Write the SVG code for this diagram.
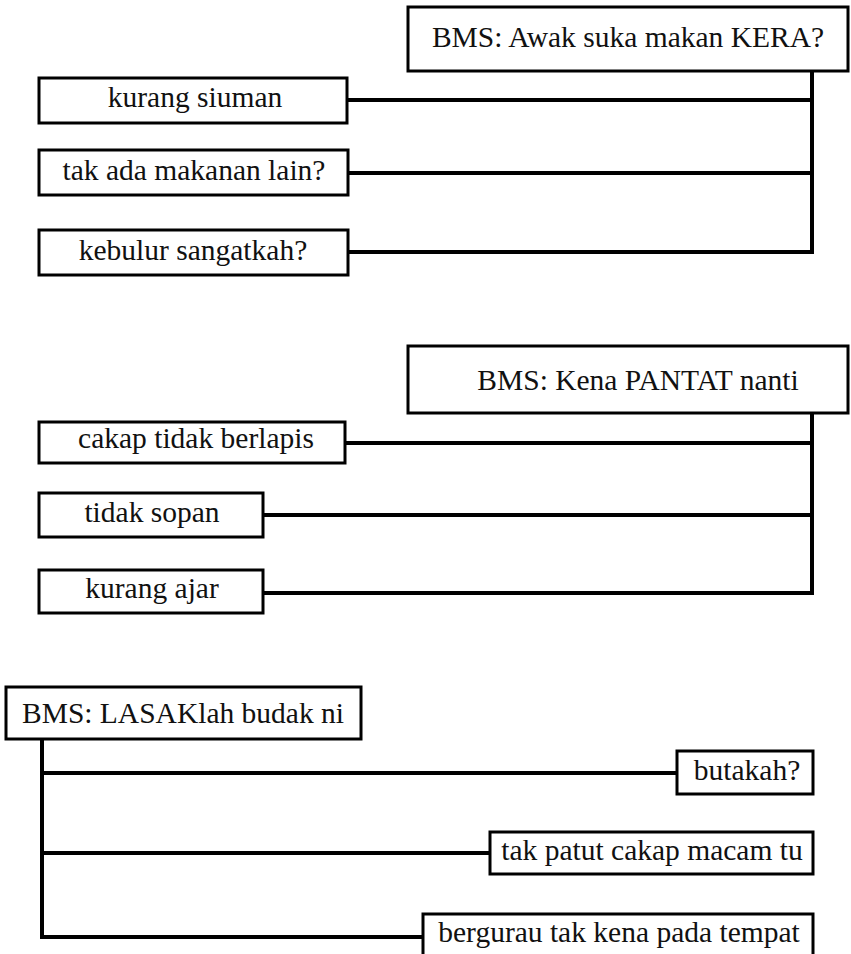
<svg xmlns="http://www.w3.org/2000/svg" width="851" height="954" viewBox="0 0 851 954">
<style>
.box{fill:#fff;stroke:#000;stroke-width:3}
.t{font-family:'Liberation Serif','Times New Roman',serif;font-size:29.5px;fill:#111;text-anchor:middle}
.c{fill:none;stroke:#000;stroke-width:4;stroke-linecap:square;stroke-linejoin:miter}
</style>
<rect width="851" height="954" fill="#fff"/>
<g id="connectors">
<path class="c" d="M812,71 V252 H348 M348,100 H812 M348,173 H812"/>
<path class="c" d="M812,413 V593 H263 M346,443 H812 M263,515 H812"/>
<path class="c" d="M42,739 V937 H423 M42,773 H677 M42,853 H490"/>
</g>
<g id="n1"><rect class="box" x="408" y="7" width="440" height="64"/><text class="t" x="628" y="47">BMS: Awak suka makan KERA?</text></g>
<g id="n1a"><rect class="box" x="39" y="78" width="308" height="45"/><text class="t" x="195" y="107">kurang siuman</text></g>
<g id="n1b"><rect class="box" x="39" y="150" width="309" height="45"/><text class="t" x="194" y="180">tak ada makanan lain?</text></g>
<g id="n1c"><rect class="box" x="39" y="230" width="309" height="45"/><text class="t" x="193" y="260">kebulur sangatkah?</text></g>
<g id="n2"><rect class="box" x="408" y="346" width="440" height="67"/><text class="t" x="638" y="390">BMS: Kena PANTAT nanti</text></g>
<g id="n2a"><rect class="box" x="39" y="422" width="306" height="41"/><text class="t" x="196" y="448">cakap tidak berlapis</text></g>
<g id="n2b"><rect class="box" x="39" y="493" width="224" height="44"/><text class="t" x="152" y="522">tidak sopan</text></g>
<g id="n2c"><rect class="box" x="39" y="570" width="224" height="43"/><text class="t" x="152" y="598">kurang ajar</text></g>
<g id="n3"><rect class="box" x="6" y="687" width="355" height="52"/><text class="t" x="183" y="723">BMS: LASAKlah budak ni</text></g>
<g id="n3a"><rect class="box" x="677" y="751" width="136" height="43"/><text class="t" x="747" y="780">butakah?</text></g>
<g id="n3b"><rect class="box" x="490" y="832" width="323" height="42"/><text class="t" x="652" y="860">tak patut cakap macam tu</text></g>
<g id="n3c"><rect class="box" x="423" y="914" width="390" height="50"/><text class="t" x="619" y="942">bergurau tak kena pada tempat</text></g>
</svg>
